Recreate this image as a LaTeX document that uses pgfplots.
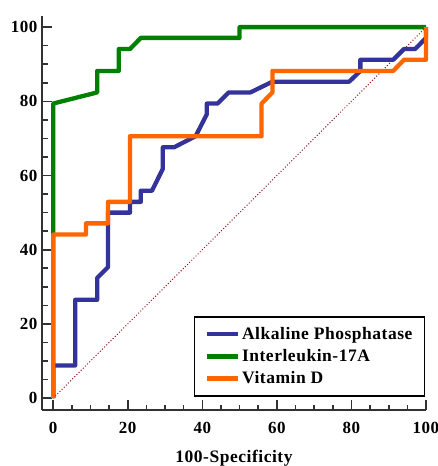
\documentclass[border=0pt]{standalone}
\usepackage{pgfplots}
\pgfplotsset{compat=1.18}
\usepackage{fontspec}
\setmainfont{Liberation Serif}[LetterSpace=3]
\definecolor{cblue}{RGB}{51,51,153}
\definecolor{cgreen}{RGB}{0,128,0}
\definecolor{corange}{RGB}{255,102,0}
\definecolor{cdiag}{RGB}{140,20,20}
\definecolor{caxis}{RGB}{50,50,50}
\begin{document}
\begin{tikzpicture}
\useasboundingbox (-42pt,-56pt) rectangle (396pt,410pt);
\begin{axis}[
  scale only axis, width=384pt, height=394pt,
  at={(0pt,0pt)}, anchor=south west,
  xmin=-3, xmax=100, ymin=-3.2, ymax=103,
  axis x line=bottom, axis y line=left,
  axis line style={-, line width=1.8pt, color=caxis},
  xtick={0,20,...,100}, ytick={0,20,...,100},
  minor tick num=3,
  major tick length=10pt, minor tick length=5.5pt,
  every tick/.style={line width=1.6pt, color=caxis},
  tick align=inside,
  /pgf/number format/assume math mode=true,
  tick label style={font=\fontsize{17}{17}\selectfont\bfseries},
  xticklabel style={yshift=-9pt},
  yticklabel style={xshift=-1pt},
  xlabel={100-Specificity},
  xlabel style={font=\fontsize{17.5}{17.5}\selectfont\bfseries, yshift=-9pt},
  legend cell align=left,
  legend style={at={(axis cs:99.8,0.4)}, anchor=south east, draw=black, line width=1.6pt,
    font=\fontsize{17.5}{17.5}\selectfont\bfseries, inner xsep=10pt, inner ysep=8.5pt,
    row sep=4.5pt},
  legend image code/.code={\draw[#1, line width=4.5pt] (0pt,0pt) -- (31pt,0pt);},
  clip=false,
]
\addplot[forget plot, cdiag, dotted, line width=1pt] coordinates {(0,0) (100,100)};
\addplot[cblue, line width=4.3pt, line join=round] coordinates {
(0,0) (0,8.8) (5.9,8.8) (5.9,26.5) (11.8,26.5) (11.8,32.4) (14.7,35.3) (14.7,50)
(20.6,50) (20.6,52.9) (23.5,52.9) (23.5,55.9) (26.5,55.9) (29.4,61.8) (29.4,67.6)
(32.4,67.6) (38.2,70.6) (41.2,76.5) (41.2,79.4) (44.1,79.4) (47.1,82.4) (52.9,82.4)
(58.8,85.3) (79.4,85.3) (82.4,88.2) (82.4,91.2) (91.2,91.2) (94.1,94.1) (97.1,94.1)
(100,97.1) (100,100)};
\addlegendentry{Alkaline Phosphatase\hspace{18pt}}
\addplot[cgreen, line width=4.3pt, line join=round] coordinates {
(0,0) (0,79.4) (11.8,82.4) (11.8,88.2) (17.6,88.2) (17.6,94.1) (20.6,94.1)
(23.5,97.1) (50,97.1) (50,100) (100,100)};
\addlegendentry{Interleukin-17A}
\addplot[corange, line width=4.3pt, line join=round] coordinates {
(0,0) (0,44.1) (8.8,44.1) (8.8,47.1) (14.7,47.1) (14.7,52.9) (20.6,52.9)
(20.6,70.6) (55.9,70.6) (55.9,79.4) (58.8,82.4) (58.8,88.2) (91.2,88.2)
(94.1,91.2) (100,91.2) (100,100)};
\addlegendentry{Vitamin D}
\end{axis}
\end{tikzpicture}
\end{document}
